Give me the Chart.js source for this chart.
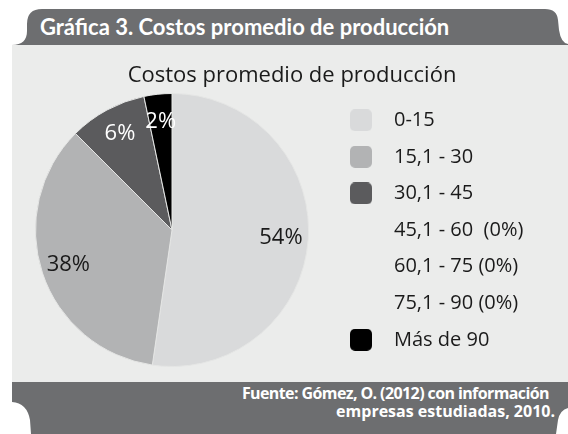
<!DOCTYPE html>
<html lang="es">
<head>
<meta charset="UTF-8">
<title>Gráfica 3. Costos promedio de producción</title>
<script src="https://cdn.jsdelivr.net/npm/chart.js"></script>
<style>
  html, body { margin: 0; padding: 0; background: #fff; }
  #page { position: relative; width: 568px; height: 434px; overflow: hidden; background: #fff; }
  #frame { position: absolute; left: 0; top: 0; }
  #head { position: absolute; left: 40px; top: 13px; color: #fff; font: bold 22px Lato, sans-serif; white-space: nowrap; }
  #foot { position: absolute; right: 13px; top: 384px; color: #fff; font: bold 16px "Open Sans", sans-serif; line-height: 18px; text-align: right; white-space: nowrap; }
  #foot .l1 { letter-spacing: -0.6px; padding-right: 6px; }
  #panel { position: absolute; left: 12px; top: 45px; width: 556px; height: 337px; background: #ebeceb; }
</style>
</head>
<body>
<div id="page">
  <svg id="frame" width="568" height="434">
    <path d="M12,45 C22,45 27,40 27,31 L27,24 Q27,9 42,9 L545,9 Q557,9 558,20 L559,30 Q561,43 568,44 L568,45 Z" fill="#6d6e70"/>
    <path d="M12,382 L568,382 L568,408 Q560,410 558,420 L556,434 L31,434 L30,420 Q27,403 12,402 Z" fill="#6d6e70"/>
  </svg>
  <div id="head">Gráfica 3. Costos promedio de producción</div>
  <div id="panel"><canvas id="pie"></canvas></div>
  <div id="foot"><span class="l1">Fuente: Gómez, O. (2012) con información</span><br>empresas estudiadas, 2010.</div>
</div>

<script>
// categories (legend order) and slice sizes
const categories = ["0-15", "15,1 - 30", "30,1 - 45", "45,1 - 60  (0%)", "60,1 - 75 (0%)", "75,1 - 90 (0%)", "Más de 90"];
const shares = [52.3, 35.2, 9.2, 0, 0, 0, 3.3];
// percentages printed on the slices
const pctLabels = ["54%", "38%", "6%", "", "", "", "2%"];
const colors = ["#d9dadb", "#b2b3b4", "#5b5b5d", "#ffffff", "#ffffff", "#ffffff", "#000000"];
const labelColors = ["#1a1a1a", "#1a1a1a", "#ffffff", "#1a1a1a", "#1a1a1a", "#1a1a1a", "#ffffff"];

const FONT = '"Open Sans", sans-serif';
const legendSize = 20, legendPad = 16.6, swatchSlot = 46;
const padLeft = 10.6, padRight = 6.6, legendLeft = 309.4;

// little rounded squares used as legend markers
function swatch(color, show) {
  const c = document.createElement("canvas");
  c.width = 22; c.height = 22;
  if (show) {
    const g = c.getContext("2d");
    g.fillStyle = color;
    g.beginPath();
    g.roundRect(0, 0, 22, 22, 5);
    g.fill();
  }
  return c;
}

// fixed legend width so the pie and the title sit where they do in the picture
const legendBox = {
  id: "legendBox",
  beforeInit(chart) {
    const fit = chart.legend.fit;
    chart.legend.fit = function () {
      fit.call(this);
      this.width = 556 - padRight - legendLeft;
    };
  }
};

const sliceLabels = {
  id: "sliceLabels",
  afterDatasetsDraw(chart) {
    const ctx = chart.ctx;
    chart.getDatasetMeta(0).data.forEach((arc, i) => {
      if (!shares[i]) return;
      const p = arc.getProps(["x", "y", "startAngle", "endAngle", "outerRadius"], true);
      const a = (p.startAngle + p.endAngle) / 2;
      const r = p.outerRadius * 0.8;
      ctx.save();
      ctx.font = "22px " + FONT;
      ctx.fillStyle = labelColors[i];
      ctx.textAlign = "center";
      ctx.textBaseline = "middle";
      ctx.fillText(pctLabels[i], p.x + Math.cos(a) * r, p.y + Math.sin(a) * r);
      ctx.restore();
    });
  }
};

new Chart(document.getElementById("pie"), {
  type: "pie",
  data: {
    labels: categories,
    datasets: [{
      data: shares,
      backgroundColor: colors,
      borderColor: "#e4e5e4",
      borderWidth: shares.map(v => v ? 1 : 0)
    }]
  },
  options: {
    responsive: true,
    maintainAspectRatio: false,
    animation: false,
    layout: { padding: { left: padLeft, right: padRight, top: 0, bottom: 15 } },
    plugins: {
      title: {
        display: true,
        text: "Costos promedio de producción",
        color: "#1a1a1a",
        font: { family: FONT, size: 22, weight: "normal" },
        padding: { top: 17.4, bottom: 4.2 }
      },
      legend: {
        position: "right",
        fullSize: false,
        labels: {
          usePointStyle: true,
          pointStyleWidth: swatchSlot,
          padding: legendPad,
          color: "#1a1a1a",
          font: { family: FONT, size: legendSize },
          generateLabels: () => categories.map((t, i) => ({
            text: t,
            fillStyle: colors[i],
            strokeStyle: "transparent",
            lineWidth: 0,
            pointStyle: swatch(colors[i], shares[i] > 0),
            fontColor: "#1a1a1a",
            hidden: false,
            index: i
          }))
        }
      },
      tooltip: { enabled: false }
    }
  },
  plugins: [legendBox, sliceLabels]
});
</script>
</body>
</html>
